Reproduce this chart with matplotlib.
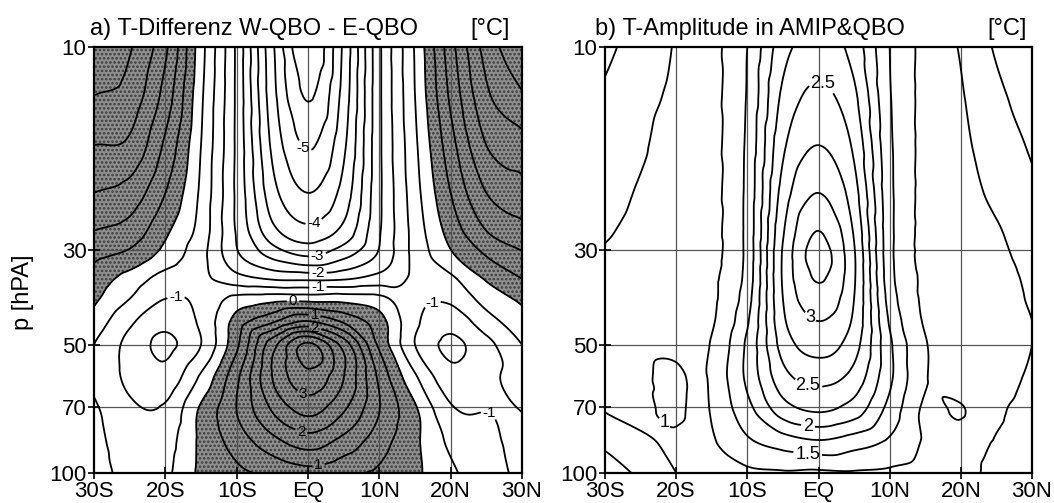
import numpy as np
import matplotlib.pyplot as plt
import matplotlib.tri as mtri

plt.rcParams['font.family'] = ['Liberation Sans', 'DejaVu Sans']
plt.rcParams['hatch.color'] = '#3a3a3a'
plt.rcParams['hatch.linewidth'] = 1.2
plt.rcParams['contour.negative_linestyle'] = 'solid'

# Data
lats = [-30, -25, -20, -15, -10, -5, 0, 5, 10, 15, 20, 25, 30]
plev = [10, 13, 17, 22, 27, 31, 35, 39, 44, 50, 60, 72, 85, 100]
lat_labels = ['30S', '20S', '10S', 'EQ', '10N', '20N', '30N']
p_ticks = [10, 30, 50, 70, 100]

# a) T difference W-QBO minus E-QBO
tdiff = [
    [2.9, 2.55, 1.6, -0.3, -2.1, -4.4, -5.95, -4.4, -2.1, -0.45, 1.3, 2.7, 3.4],
    [2.5, 2.3, 1.3, -0.4, -2.1, -4.3, -5.55, -4.3, -2.1, -0.5, 1.1, 2.4, 2.95],
    [2.0, 1.9, 0.9, -0.5, -2.1, -4.1, -5.05, -4.1, -2.1, -0.6, 0.8, 2.0, 2.3],
    [1.5, 1.3, 0.5, -0.6, -2.1, -3.8, -4.5, -3.8, -2.1, -0.7, 0.5, 1.5, 1.8],
    [1.0, 0.8, 0.1, -0.7, -2.05, -3.35, -3.85, -3.35, -2.05, -0.8, 0.2, 1.0, 1.35],
    [0.6, 0.35, -0.2, -0.85, -1.9, -2.6, -3.0, -2.6, -1.9, -0.85, -0.1, 0.5, 0.9],
    [0.3, -0.2, -0.7, -0.9, -1.3, -1.55, -1.6, -1.55, -1.3, -0.9, -0.6, 0.05, 0.5],
    [0.1, -0.5, -1.0, -0.9, -0.35, -0.2, -0.2, -0.2, -0.35, -0.9, -0.9, -0.3, 0.1],
    [-0.2, -0.9, -1.35, -0.9, 0.2, 0.9, 1.5, 0.9, 0.2, -0.9, -1.3, -0.7, -0.2],
    [-0.5, -1.15, -1.6, -1.0, 0.4, 2.3, 3.6, 2.3, 0.4, -1.0, -1.6, -1.15, -0.5],
    [-0.6, -1.1, -1.3, -0.4, 0.9, 2.5, 3.3, 2.5, 0.9, -0.4, -1.3, -1.1, -0.8],
    [-0.4, -0.9, -0.9, 0.1, 1.0, 2.0, 2.6, 2.0, 1.0, 0.1, -0.9, -1.0, -1.0],
    [-0.3, -0.8, -0.7, 0.1, 0.7, 1.3, 1.7, 1.3, 0.7, 0.1, -0.6, -0.9, -1.1],
    [-0.2, -0.7, -0.6, 0.1, 0.4, 0.6, 0.8, 0.6, 0.4, 0.1, -0.4, -0.8, -1.1],
]

# b) T amplitude in AMIP&QBO
tamp = [
    [0.70, 0.85, 1.02, 1.18, 1.50, 2.15, 2.35, 2.15, 1.50, 1.18, 0.98, 0.72, 0.55],
    [0.78, 0.92, 1.05, 1.18, 1.52, 2.30, 2.55, 2.30, 1.52, 1.18, 1.02, 0.80, 0.65],
    [0.85, 0.97, 1.10, 1.18, 1.55, 2.45, 2.75, 2.45, 1.55, 1.18, 1.05, 0.88, 0.72],
    [0.92, 1.02, 1.10, 1.18, 1.57, 2.60, 3.00, 2.60, 1.57, 1.18, 1.08, 0.95, 0.80],
    [0.98, 1.05, 1.10, 1.18, 1.58, 2.72, 3.25, 2.72, 1.58, 1.18, 1.10, 1.02, 0.88],
    [1.02, 1.07, 1.10, 1.18, 1.58, 2.78, 3.35, 2.78, 1.58, 1.18, 1.12, 1.05, 0.92],
    [1.05, 1.07, 1.10, 1.20, 1.60, 2.78, 3.27, 2.78, 1.60, 1.20, 1.12, 1.07, 0.96],
    [1.05, 1.07, 1.10, 1.20, 1.65, 2.75, 3.15, 2.75, 1.65, 1.20, 1.12, 1.07, 0.98],
    [1.05, 1.07, 1.10, 1.22, 1.72, 2.70, 3.00, 2.70, 1.72, 1.22, 1.12, 1.07, 1.00],
    [1.05, 1.07, 1.08, 1.27, 1.80, 2.60, 2.85, 2.60, 1.80, 1.27, 1.12, 1.07, 1.00],
    [1.05, 1.05, 0.93, 1.30, 1.80, 2.40, 2.57, 2.40, 1.80, 1.27, 1.12, 1.05, 0.98],
    [1.00, 1.05, 0.95, 1.27, 1.65, 2.10, 2.25, 2.10, 1.65, 1.20, 1.27, 1.03, 0.95],
    [0.80, 0.95, 1.05, 1.22, 1.45, 1.60, 1.70, 1.60, 1.45, 1.22, 1.12, 0.98, 0.92],
    [0.60, 0.80, 1.00, 1.17, 1.20, 1.22, 1.20, 1.22, 1.20, 1.17, 1.10, 0.93, 0.90],
]


def smooth_field(z):
    # regular grid -> triangulation in (lat, log p), refined by matplotlib
    nx, ny = len(lats), len(plev)
    x, y = np.meshgrid(np.array(lats) / 60.0, np.log10(plev))
    tris = []
    for j in range(ny - 1):
        for i in range(nx - 1):
            k = j * nx + i
            tris.append([k, k + 1, k + nx + 1])
            tris.append([k, k + nx + 1, k + nx])
    tri = mtri.Triangulation(x.ravel(), y.ravel(), np.array(tris))
    zz = np.ravel(z)
    interp = mtri.CubicTriInterpolator(tri, zz, kind='geom')
    tr, zr = mtri.UniformTriRefiner(tri).refine_field(zz, triinterpolator=interp, subdiv=4)
    return mtri.Triangulation(tr.x * 60.0, 10 ** tr.y, tr.triangles), zr


def setup_axes(ax):
    ax.set_yscale('log')
    ax.set_ylim(100, 10)
    ax.set_xlim(-30, 30)
    ax.set_xticks(range(-30, 31, 10))
    ax.set_xticklabels(lat_labels)
    ax.set_yticks(p_ticks)
    ax.set_yticklabels([str(p) for p in p_ticks])
    ax.yaxis.set_minor_locator(plt.NullLocator())
    ax.tick_params(direction='inout', length=9, width=1.2, labelsize=16, pad=1)
    for s in ax.spines.values():
        s.set_linewidth(1.6)
    for x in range(-20, 21, 10):
        ax.axvline(x, color='#555555', lw=0.9, zorder=1)
    for p in [30, 50, 70]:
        ax.axhline(p, color='#555555', lw=0.9, zorder=1)


def upright(cs):
    for t in cs.labelTexts:
        t.set_rotation(0)


fig = plt.figure(figsize=(10.54, 5.03), dpi=100)
W, H = 1054.0, 503.0
ax1 = fig.add_axes([94 / W, (H - 473) / H, 428 / W, 426 / H])
ax2 = fig.add_axes([605 / W, (H - 473) / H, 427 / W, 426 / H])

# panel a: shading of positive values, half-degree lines, labelled whole-degree lines
tri_a, za = smooth_field(tdiff)
setup_axes(ax1)
ax1.tricontourf(tri_a, za, levels=[0, 10], colors=['#8e8e8e'], hatches=['....'], zorder=0.5)
ax1.tricontour(tri_a, za, levels=np.arange(-5.5, 4.0, 1.0), colors='black',
               linewidths=1.3, zorder=2)
cs1 = ax1.tricontour(tri_a, za, levels=np.arange(-6.0, 4.5, 1.0), colors='black',
                     linewidths=1.3, zorder=2)
pos_a = [(-1.5, 17.7), (1.0, 26.4), (1.4, 31.3), (1.4, 33.9), (1.4, 36.8), (-2.1, 39.7),
         (1.0, 41.9), (1.0, 45.4), (-1.1, 67.3), (-1.1, 82), (1.4, 94.6),
         (-18.4, 39.7), (17.1, 38.5), (25.5, 72)]
ax1.clabel(cs1, manual=pos_a, fmt='%g', inline=True, inline_spacing=2, fontsize=11)
upright(cs1)

# panel b
tri_b, zb = smooth_field(tamp)
setup_axes(ax2)
ax2.tricontour(tri_b, zb, levels=np.arange(0.25, 3.6, 0.5), colors='black',
               linewidths=1.3, zorder=2)
cs2 = ax2.tricontour(tri_b, zb, levels=np.arange(0.5, 3.6, 0.5), colors='black',
                     linewidths=1.3, zorder=2)
pos_b = [(0.6, 12.2), (-1.5, 43.8), (-1.5, 62.7), (-1.5, 78), (-1.5, 89.5), (-21.1, 74.3)]
ax2.clabel(cs2, manual=pos_b, fmt='%g', inline=True, inline_spacing=2, fontsize=13)
upright(cs2)

# titles and labels
tfont = dict(fontsize=17, va='baseline')
fig.text(90 / W, (H - 35) / H, 'a) T-Differenz W-QBO - E-QBO', ha='left', **tfont)
fig.text(510 / W, (H - 35) / H, '[°C]', ha='right', **tfont)
fig.text(595 / W, (H - 35) / H, 'b) T-Amplitude in AMIP&QBO', ha='left', **tfont)
fig.text(1027 / W, (H - 35) / H, '[°C]', ha='right', **tfont)
fig.text(23 / W, (H - 292) / H, 'p [hPA]', rotation=90, ha='center', va='center',
         fontsize=17)

fig.savefig('out.png', dpi=100)
